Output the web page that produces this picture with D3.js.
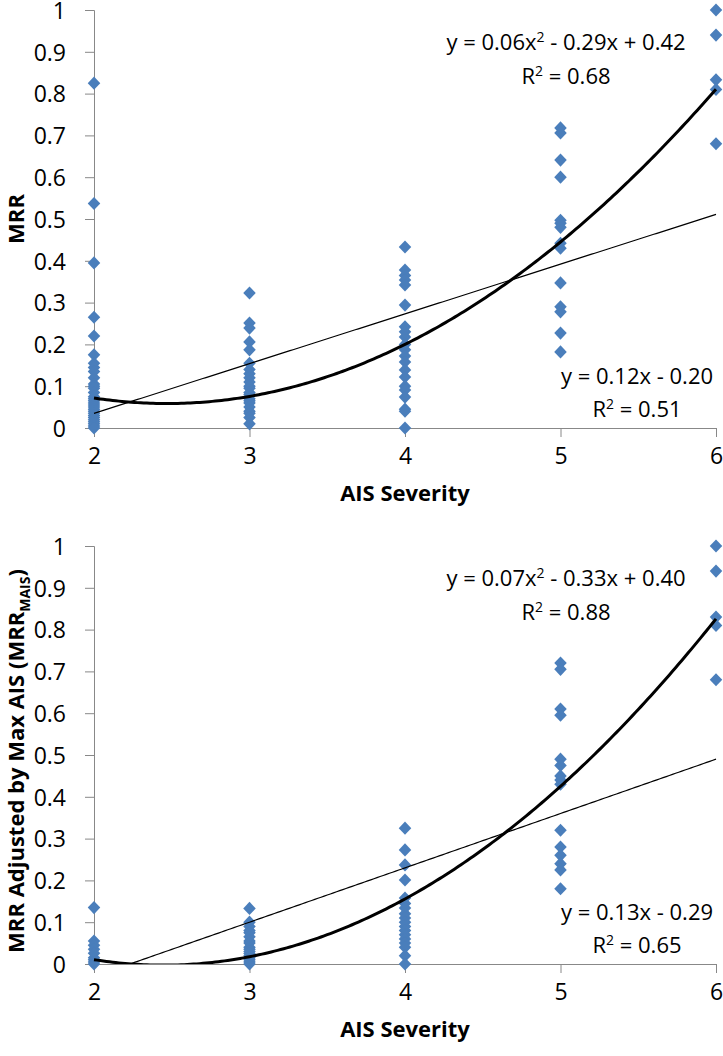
<!DOCTYPE html>
<html>
<head>
<meta charset="utf-8">
<script src="https://cdn.jsdelivr.net/npm/d3@7"></script>
<style>
  body { margin: 0; background: #fff; }
  svg { display: block; }
  text { font-family: "Open Sans", sans-serif; fill: #000; }
</style>
</head>
<body>
<svg width="723" height="1056"></svg>
<script>
// AIS severity levels and y ticks shared by both panels
var xTicks = [2, 3, 4, 5, 6];
var yTicks = [0, 0.1, 0.2, 0.3, 0.4, 0.5, 0.6, 0.7, 0.8, 0.9, 1];

// top panel: MRR values per AIS level
var mrr2 = [0.825, 0.537, 0.395, 0.265, 0.22, 0.175, 0.155, 0.145, 0.135, 0.12, 0.105, 0.1, 0.095,
            0.085, 0.075, 0.07, 0.065, 0.06, 0.055, 0.05, 0.045, 0.04, 0.035, 0.03, 0.025, 0.02,
            0.015, 0.01, 0.005, 0];
var mrr3 = [0.323, 0.251, 0.239, 0.206, 0.187, 0.155, 0.14, 0.13, 0.12, 0.11, 0.1, 0.095, 0.085,
            0.08, 0.07, 0.065, 0.06, 0.05, 0.04, 0.035, 0.025, 0.01];
var mrr4 = [0.433, 0.378, 0.365, 0.354, 0.342, 0.294, 0.242, 0.23, 0.218, 0.2, 0.187, 0.172,
            0.158, 0.139, 0.122, 0.1, 0.091, 0.074, 0.045, 0.04, 0];
var mrr5 = [0.718, 0.706, 0.641, 0.6, 0.497, 0.49, 0.48, 0.442, 0.43, 0.347, 0.29, 0.278,
            0.227, 0.182];
var mrr6 = [1.0, 0.94, 0.833, 0.81, 0.68];

// bottom panel: MRR adjusted by max AIS
var mais2 = [0.135, 0.055, 0.045, 0.035, 0.026, 0.015, 0.01, 0.005, 0];
var mais3 = [0.133, 0.1, 0.09, 0.08, 0.075, 0.065, 0.055, 0.05, 0.04, 0.035, 0.03, 0.025,
             0.02, 0.015, 0.01, 0.005, 0];
var mais4 = [0.325, 0.273, 0.237, 0.201, 0.158, 0.145, 0.134, 0.12, 0.11, 0.1, 0.09, 0.08,
             0.07, 0.06, 0.05, 0.04, 0.02, 0];
var mais5 = [0.72, 0.705, 0.61, 0.595, 0.49, 0.475, 0.45, 0.44, 0.43, 0.32, 0.28, 0.26,
             0.24, 0.225, 0.18];
var mais6 = [1.0, 0.94, 0.83, 0.81, 0.68];

// trendline coefficients (as drawn)
var topLin = [0.119, -0.203];
var topQuad = [0.0603, -0.2977, 0.426];
var botLin = [0.13, -0.29];
var botQuad = [0.0656, -0.321, 0.39];

var svg = d3.select("svg");

function toPoints(groups) {
  var pts = [];
  groups.forEach(function(vals, i) {
    vals.forEach(function(v) { pts.push({x: xTicks[i], y: v}); });
  });
  return pts;
}

function panel(id, top, pts, lin, quad, eqQ, r2Q, eqL, r2L, yTitle) {
  var x = d3.scaleLinear().domain([2, 6]).range([94, 716]);
  var y = d3.scaleLinear().domain([0, 1]).range([top + 418, top]);
  var g = svg.append("g");

  g.append("defs").append("clipPath").attr("id", id)
    .append("rect").attr("x", 0).attr("y", y(1) - 10).attr("width", 723).attr("height", y(0) - y(1) + 10);

  var yAxis = g.append("g").attr("transform", "translate(94,0)")
      .call(d3.axisLeft(y).tickValues(yTicks).tickSize(9).tickPadding(19)
        .tickFormat(function(d) { return d === 0 || d === 1 ? d : d3.format(".1f")(d); }));
  var xAxis = g.append("g").attr("transform", "translate(0," + y(0) + ")")
      .call(d3.axisBottom(x).tickValues(xTicks).tickSize(9).tickPadding(11).tickFormat(d3.format("d")));
  [yAxis, xAxis].forEach(function(a) {
    a.select(".domain").attr("stroke", "#888").attr("stroke-width", 1);
    a.selectAll(".tick line").attr("stroke", "#888");
    a.selectAll("text").style("font-size", "23px").attr("fill", "#000");
  });
  yAxis.selectAll("text").attr("dy", "0.36em");

  g.append("g").selectAll("path").data(pts).enter().append("path")
    .attr("d", d3.symbol().type(d3.symbolDiamond).size(50))
    .attr("transform", function(d) { return "translate(" + x(d.x) + "," + y(d.y) + ") scale(1.65,1)"; })
    .attr("fill", "#4a7ebb");

  var xs = d3.range(2, 6.001, 0.02);
  var line = d3.line().x(function(d) { return x(d[0]); }).y(function(d) { return y(d[1]); });
  g.append("path").attr("clip-path", "url(#" + id + ")")
    .datum(xs.map(function(v) { return [v, lin[0] * v + lin[1]]; }))
    .attr("d", line).attr("fill", "none").attr("stroke", "#000").attr("stroke-width", 1.2);
  g.append("path").attr("clip-path", "url(#" + id + ")")
    .datum(xs.map(function(v) { return [v, quad[0] * v * v + quad[1] * v + quad[2]]; }))
    .attr("d", line).attr("fill", "none").attr("stroke", "#000").attr("stroke-width", 3);

  function label(txt, cx, cy) {
    var t = g.append("text").attr("x", cx).attr("y", cy).attr("text-anchor", "middle")
      .style("font-size", "22px");
    txt.forEach(function(p) {
      var s = t.append("tspan").text(p[0]);
      if (p[1] === "sup") s.attr("dy", -8).style("font-size", "14px");
      if (p[1] === "back") s.attr("dy", 8);
    });
  }
  label(eqQ, 566, top + 40);
  label(r2Q, 566, top + 74);
  label(eqL, 637, top + 374);
  label(r2L, 637, top + 407);

  g.append("text").attr("x", 405).attr("y", top + 491).attr("text-anchor", "middle")
    .style("font-size", "22px").style("font-weight", "bold").text("AIS Severity");

  var yt = g.append("text").attr("transform", "translate(" + yTitle.x + "," + (top + yTitle.cy) + ") rotate(-90)")
    .attr("text-anchor", "middle").style("font-size", "22px").style("font-weight", "bold");
  yTitle.parts.forEach(function(p) {
    var s = yt.append("tspan").text(p[0]);
    if (p[1] === "sub") s.attr("dy", 6).style("font-size", "14px");
    if (p[1] === "back") s.attr("dy", -6);
  });
}

panel("clipTop", 10, toPoints([mrr2, mrr3, mrr4, mrr5, mrr6]), topLin, topQuad,
  [["y = 0.06x"], ["2", "sup"], [" - 0.29x + 0.42", "back"]],
  [["R"], ["2", "sup"], [" = 0.68", "back"]],
  [["y = 0.12x - 0.20"]],
  [["R"], ["2", "sup"], [" = 0.51", "back"]],
  {x: 24, cy: 209, parts: [["MRR"]]});

panel("clipBot", 546, toPoints([mais2, mais3, mais4, mais5, mais6]), botLin, botQuad,
  [["y = 0.07x"], ["2", "sup"], [" - 0.33x + 0.40", "back"]],
  [["R"], ["2", "sup"], [" = 0.88", "back"]],
  [["y = 0.13x - 0.29"]],
  [["R"], ["2", "sup"], [" = 0.65", "back"]],
  {x: 24, cy: 215, parts: [["MRR Adjusted by Max AIS (MRR"], ["MAIS", "sub"], [")", "back"]]});
</script>
</body>
</html>
